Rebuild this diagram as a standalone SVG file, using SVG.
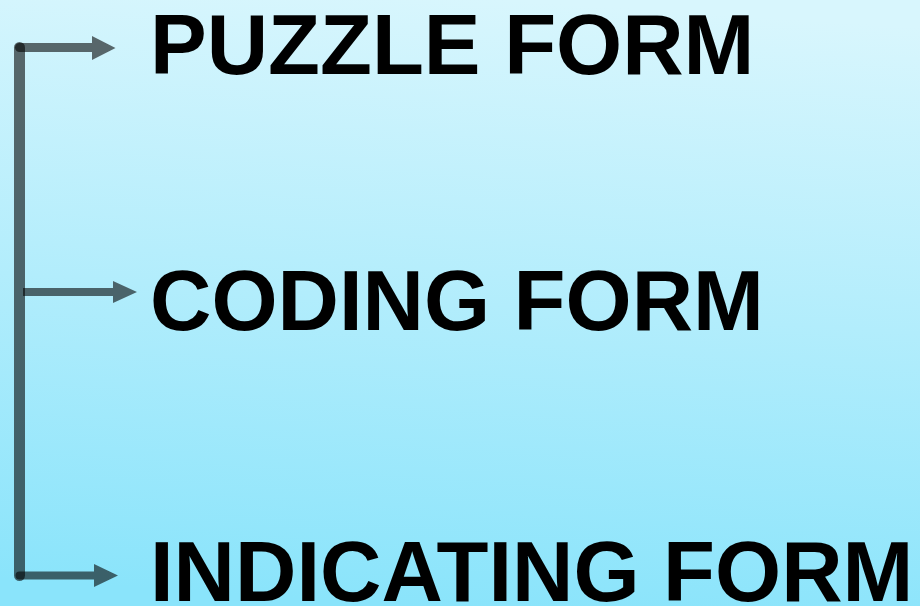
<svg xmlns="http://www.w3.org/2000/svg" width="920" height="606" viewBox="0 0 920 606">
<defs>
<linearGradient id="bg" x1="0.55" y1="0" x2="0.45" y2="1">
<stop offset="0" stop-color="#d8f6fd"/>
<stop offset="0.5" stop-color="#b2edfc"/>
<stop offset="1" stop-color="#8ae4fb"/>
</linearGradient>
<style>
.lbl{font-family:"Liberation Sans",Arial,sans-serif;font-weight:bold;font-size:85px;fill:#000}
.con{fill:#000;fill-opacity:0.58}
.trunk{stroke:#000;stroke-opacity:0.58;stroke-width:11;stroke-linecap:round;fill:none}
</style>
</defs>
<rect width="920" height="606" fill="url(#bg)"/>
<g id="connectors">
<line class="trunk" x1="19.5" y1="47.5" x2="19.5" y2="575.5"/>
<path class="con" d="M19.5 43 H92 V36 L115.5 48 L92 60 V52 H19.5 A4.5 4.5 0 0 1 19.5 43 Z"/>
<path class="con" d="M23 288 H113 V281 L137 292 L113 303 V296 H23 Z"/>
<path class="con" d="M19.5 571.5 H94 V564 L118 575.5 L94 587 V579.5 H19.5 A4 4 0 0 1 19.5 571.5 Z"/>
</g>
<g id="puzzle-form"><text class="lbl" x="150" y="74">PUZZLE FORM</text></g>
<g id="coding-form"><text class="lbl" x="150" y="330">CODING FORM</text></g>
<g id="indicating-form"><text class="lbl" x="150" y="601">INDICATING FORM</text></g>
</svg>
